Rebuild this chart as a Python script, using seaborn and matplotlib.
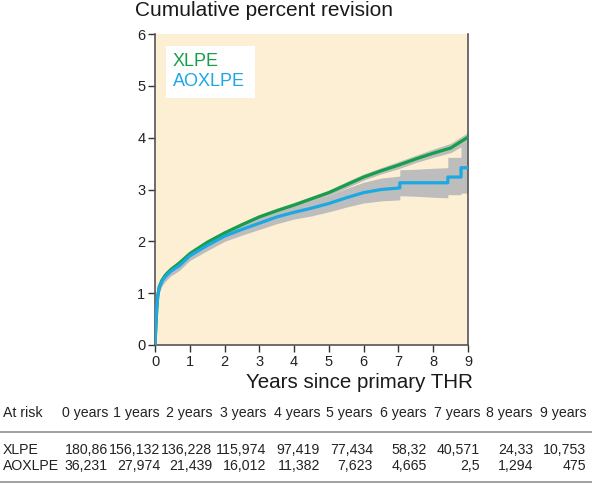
import matplotlib
matplotlib.use("Agg")
import matplotlib.pyplot as plt
import seaborn as sns
import pandas as pd
import numpy as np

# ---- data ----
xlpe_t = [0, 0.02, 0.05, 0.08, 0.12, 0.2, 0.3, 0.45, 0.7, 1, 1.5, 2, 2.5, 3, 3.5, 4,
          4.5, 5, 5.5, 6, 6.5, 7, 7.5, 8, 8.5, 9]
xlpe_y = [0, 0.3, 0.7, 0.95, 1.12, 1.25, 1.35, 1.45, 1.58, 1.76, 1.98, 2.16, 2.32, 2.47,
          2.59, 2.70, 2.82, 2.94, 3.09, 3.24, 3.36, 3.47, 3.59, 3.70, 3.80, 4.01]
xlpe_lo = [0, 0.25, 0.64, 0.89, 1.06, 1.19, 1.29, 1.39, 1.52, 1.70, 1.93, 2.11, 2.27, 2.42,
           2.54, 2.65, 2.77, 2.89, 3.03, 3.18, 3.30, 3.40, 3.52, 3.62, 3.71, 3.90]
xlpe_hi = [0, 0.35, 0.76, 1.01, 1.18, 1.31, 1.41, 1.51, 1.64, 1.82, 2.03, 2.21, 2.37, 2.52,
           2.64, 2.75, 2.87, 2.99, 3.15, 3.30, 3.42, 3.54, 3.66, 3.78, 3.89, 4.10]

ao_t = [0, 0.02, 0.05, 0.08, 0.12, 0.2, 0.3, 0.45, 0.7, 1, 1.5, 2, 2.5, 3, 3.5, 4, 4.5,
        5, 5.5, 6, 6.5, 7.04, 7.04, 7.5, 8, 8.42, 8.42, 8.8, 8.8, 9]
ao_y = [0, 0.3, 0.7, 0.95, 1.1, 1.23, 1.32, 1.42, 1.53, 1.72, 1.92, 2.10, 2.23, 2.35, 2.47,
        2.56, 2.64, 2.73, 2.84, 2.94, 3.00, 3.03, 3.13, 3.13, 3.13, 3.13, 3.24, 3.24, 3.42, 3.42]
ao_lo = [0, 0.22, 0.6, 0.86, 1.01, 1.14, 1.23, 1.33, 1.44, 1.63, 1.82, 2.0, 2.12, 2.23, 2.34,
         2.43, 2.49, 2.57, 2.66, 2.74, 2.78, 2.80, 2.88, 2.87, 2.85, 2.84, 2.90, 2.90, 2.93, 2.93]
ao_hi = [0, 0.38, 0.8, 1.04, 1.19, 1.32, 1.41, 1.51, 1.62, 1.81, 2.02, 2.20, 2.34, 2.47, 2.60,
         2.69, 2.79, 2.89, 3.02, 3.14, 3.22, 3.26, 3.38, 3.39, 3.41, 3.42, 3.62, 3.62, 3.95, 3.95]

at_risk_labels = ["0 years", "1 years", "2 years", "3 years", "4 years",
                  "5 years", "6 years", "7 years", "8 years", "9 years"]
at_risk_xlpe = ["180,86", "156,132", "136,228", "115,974", "97,419", "77,434",
                "58,32", "40,571", "24,33", "10,753"]
at_risk_ao = ["36,231", "27,974", "21,439", "16,012", "11,382", "7,623",
              "4,665", "2,5", "1,294", "475"]

GREEN = "#179e4b"
BLUE = "#1ca8e2"
GRAY = "#bdbdbd"
BG = "#fdefd3"
DARK = "#333333"

sns.set_theme(style="ticks")
plt.rcParams["font.family"] = ["Liberation Sans", "DejaVu Sans"]

W, H = 592, 483
fig = plt.figure(figsize=(W / 100, H / 100), dpi=100)

def fx(px):
    return px / W

def fy(py):
    return 1 - py / H

ax = fig.add_axes([fx(155), fy(345), (468 - 155) / W, (345 - 34) / H])
ax.set_facecolor(BG)

ax.fill_between(xlpe_t, xlpe_lo, xlpe_hi, color=GRAY, lw=0, zorder=1)
ax.fill_between(ao_t, ao_lo, ao_hi, color=GRAY, lw=0, zorder=1)

df_x = pd.DataFrame({"t": xlpe_t, "y": xlpe_y})
df_a = pd.DataFrame({"t": ao_t, "y": ao_y})
sns.lineplot(data=df_x, x="t", y="y", ax=ax, color=GREEN, lw=2.3, estimator=None,
             sort=False, zorder=3)
sns.lineplot(data=df_a, x="t", y="y", ax=ax, color=BLUE, lw=2.3, estimator=None,
             sort=False, zorder=4)

ax.set_xlim(0, 9)
ax.set_ylim(0, 6)
ax.set_xticks(range(0, 10))
ax.set_yticks(range(0, 7))
ax.tick_params(axis="both", direction="out", length=5, width=1, color=DARK,
               labelsize=10.5, labelcolor="#222222", pad=2)
for s in ["left", "bottom", "right"]:
    ax.spines[s].set_color("#555555")
    ax.spines[s].set_linewidth(1.2)
ax.spines["top"].set_visible(False)
ax.set_xlabel("")
ax.set_ylabel("")

# legend box
lb = plt.Rectangle((fx(166), fy(98)), (255 - 166) / W, (98 - 46) / H,
                   transform=fig.transFigure, facecolor="white", edgecolor="none",
                   zorder=5)
fig.patches.append(lb)
fig.text(fx(173), fy(62), "XLPE", color=GREEN, fontsize=13, va="center", ha="left",
         zorder=6)
fig.text(fx(173), fy(82), "AOXLPE", color=BLUE, fontsize=13, va="center", ha="left",
         zorder=6)

# title and axis label
fig.text(fx(135), fy(11), "Cumulative percent revision", fontsize=15, va="center",
         ha="left", color="#1a1a1a")
fig.text(fx(473), fy(382), "Years since primary THR", fontsize=14.8, va="center",
         ha="right", color="#1a1a1a")

# at-risk table
right_edges = [108, 160, 212, 266, 320, 373, 427, 480, 533, 586]
tfs = 10.2
fig.text(fx(3), fy(413), "At risk", fontsize=tfs, va="center", ha="left", color="#222222")
fig.text(fx(3), fy(450), "XLPE", fontsize=tfs, va="center", ha="left", color="#222222")
fig.text(fx(3), fy(466), "AOXLPE", fontsize=tfs, va="center", ha="left", color="#222222")
for r, lab, a, b in zip(right_edges, at_risk_labels, at_risk_xlpe, at_risk_ao):
    fig.text(fx(r), fy(413), lab, fontsize=tfs, va="center", ha="right", color="#222222")
    fig.text(fx(r), fy(450), a, fontsize=tfs, va="center", ha="right", color="#222222")
    fig.text(fx(r), fy(466), b, fontsize=tfs, va="center", ha="right", color="#222222")

for yy in [432, 481.5]:
    fig.add_artist(plt.Line2D([0, 1], [fy(yy), fy(yy)], transform=fig.transFigure,
                              color="#9a9a9a", lw=1.3))

fig.savefig("out.png", dpi=100, facecolor="white")
